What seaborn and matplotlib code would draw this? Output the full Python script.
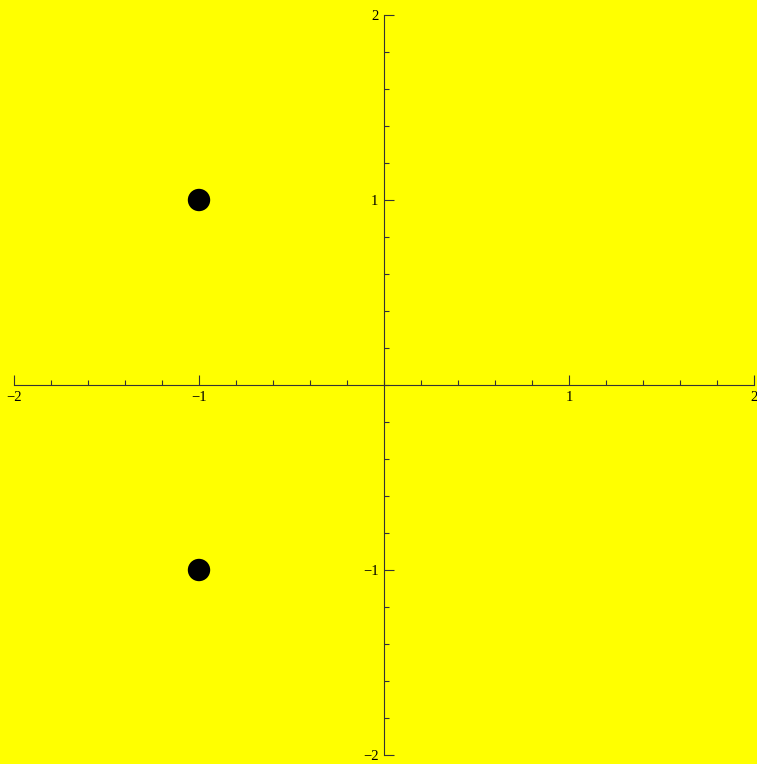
import matplotlib
matplotlib.use("Agg")
import matplotlib.pyplot as plt
import seaborn as sns
import numpy as np
import pandas as pd
from matplotlib.ticker import MultipleLocator, FixedLocator

x_vals = [-1, -1]
y_vals = [1, -1]
x_ticks = [-2, -1, 1, 2]
y_ticks = [-2, -1, 1, 2]
x_tick_labels = ["\u22122", "\u22121", "1", "2"]
y_tick_labels = ["\u22122", "\u22121", "1", "2"]

sns.set_style("white")
plt.rcParams['font.family'] = ['Liberation Serif', 'DejaVu Serif']

W, H = 757, 764
fig = plt.figure(figsize=(W / 100, H / 100), dpi=100, facecolor="#ffff00")
ax = fig.add_axes([14 / W, (H - 755) / H, (754 - 14) / W, (755 - 15) / H])
ax.set_facecolor("#ffff00")

df = pd.DataFrame({"x": x_vals, "y": y_vals})
sns.scatterplot(data=df, x="x", y="y", ax=ax, color="black", s=260,
                edgecolor="none", zorder=5)

ax.set_xlim(-2, 2)
ax.set_ylim(-2, 2)
ax.set_xlabel("")
ax.set_ylabel("")

for s in ["top", "right"]:
    ax.spines[s].set_visible(False)
ax.spines["left"].set_position(("data", 0))
ax.spines["bottom"].set_position(("data", 0))
for s in ["left", "bottom"]:
    ax.spines[s].set_color("#333333")
    ax.spines[s].set_linewidth(0.8)

ax.xaxis.set_major_locator(FixedLocator(x_ticks))
ax.yaxis.set_major_locator(FixedLocator(y_ticks))
ax.set_xticklabels(x_tick_labels)
ax.set_yticklabels(y_tick_labels)
ax.xaxis.set_minor_locator(MultipleLocator(0.2))
ax.yaxis.set_minor_locator(MultipleLocator(0.2))

ax.tick_params(which="major", direction="in", length=7.5, width=0.8,
               color="#333333", labelsize=10.5, labelcolor="black", pad=4)
ax.tick_params(which="minor", direction="in", length=3.8, width=0.8,
               color="#333333")
ax.tick_params(axis="x", which="both", bottom=True, top=False)
ax.tick_params(axis="y", which="both", left=True, right=False)

for lbl in ax.get_xticklabels() + ax.get_yticklabels():
    lbl.set_clip_on(False)

fig.savefig("out.png", dpi=100, facecolor=fig.get_facecolor())
